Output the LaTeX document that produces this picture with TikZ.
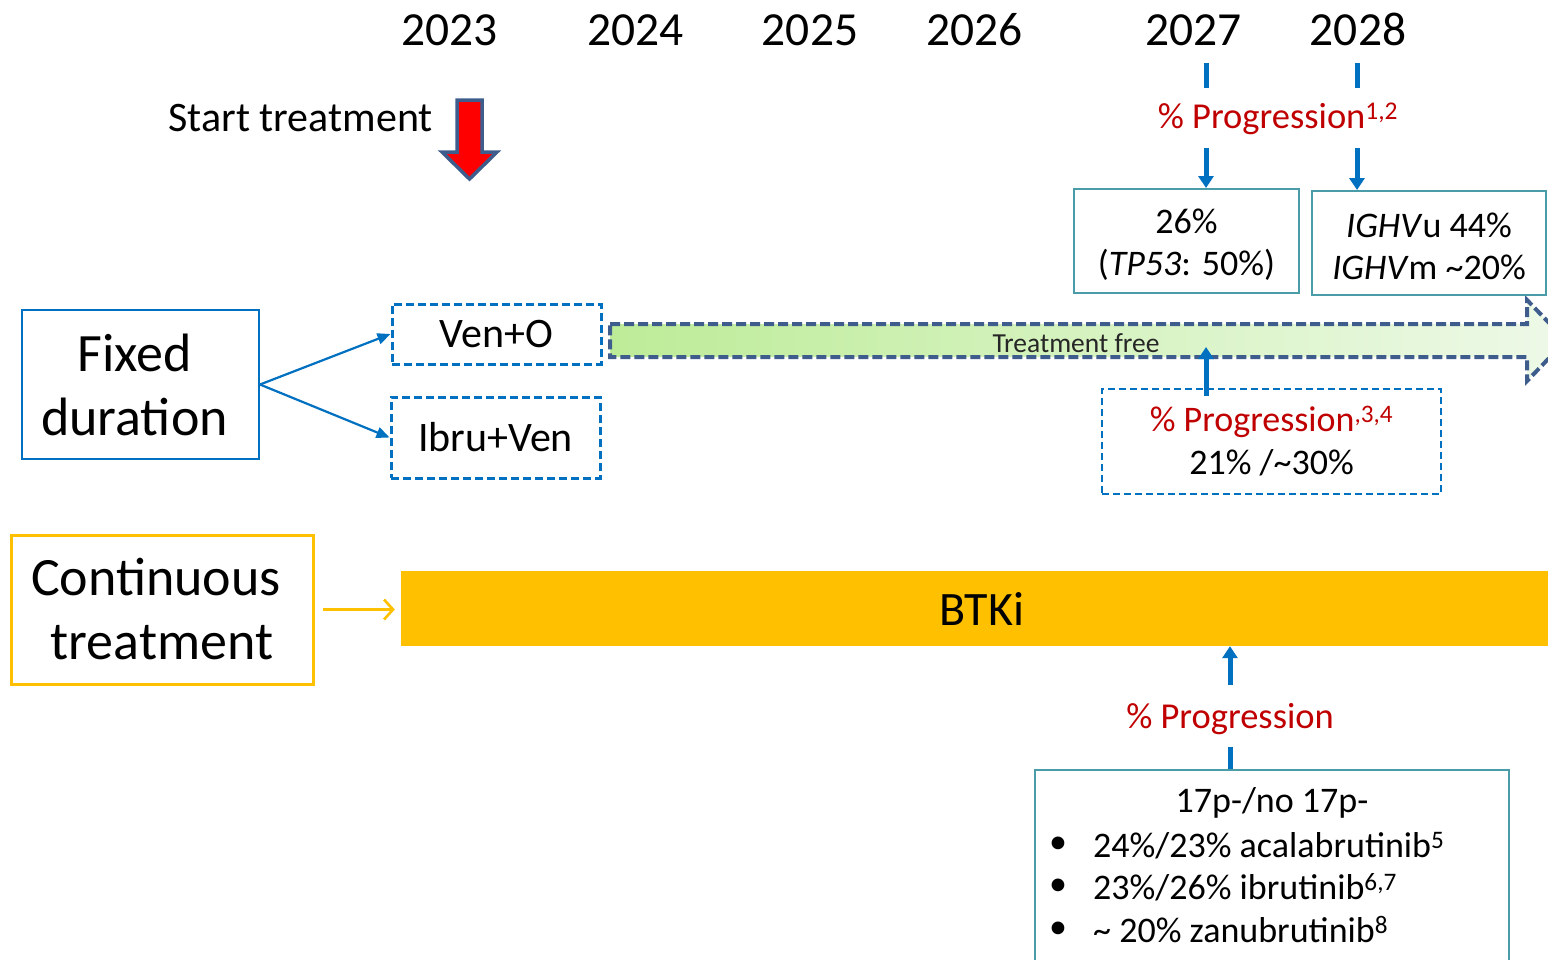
\documentclass[tikz,border=0pt]{standalone}
\usepackage{fontspec}
\setmainfont{Carlito}
\usetikzlibrary{arrows.meta, positioning, calc}
\definecolor{ocean}{HTML}{0070C0}
\definecolor{crimson}{HTML}{C00000}
\definecolor{amber}{HTML}{FFC000}
\definecolor{seafoam}{HTML}{4A9DA8}
\definecolor{steel}{HTML}{3E5D8C}
\definecolor{leaf}{HTML}{BDEC98}
\definecolor{mist}{HTML}{EEF9E8}
\definecolor{ink}{HTML}{262626}
\tikzset{
  % Timeline labels
  year/.style={font=\fontsize{47.5}{52}\selectfont, anchor=base, inner sep=0pt},
  % Regimen boxes on the left
  regimen/.style={
    draw=#1, align=center, inner sep=0pt,
    font=\fontsize{54}{64}\selectfont,
  },
  regimen/.default=ocean,
  drug/.style={
    draw=ocean, line width=3pt, dash pattern=on 8pt off 4pt,
    font=\fontsize{42}{48}\selectfont, inner sep=0pt,
  },
  % Outcome boxes
  result/.style={
    draw=seafoam, line width=2pt, align=center, inner sep=0pt,
    font=\fontsize{36}{42}\selectfont,
  },
  progbox/.style={
    draw=ocean, line width=2.2pt, dash pattern=on 7pt off 4pt,
    align=center, inner sep=0pt, font=\fontsize{36}{43}\selectfont,
  },
  prog/.style={font=\fontsize{36.5}{42}\selectfont, text=crimson, inner sep=0pt},
  listtext/.style={font=\fontsize{36}{42}\selectfont, inner sep=0pt},
  % Arrows
  branch/.style={-{Triangle[length=13pt, width=11pt]}, line width=2.2pt, ocean},
  feed/.style={-{Straight Barb[length=9pt, width=20pt]}, line width=2.6pt, amber},
  tick/.style={line width=5pt, ocean},
  down/.style={-{Triangle[length=12pt, width=15pt]}, line width=5pt, ocean},
  up/.style={-{Triangle[length=12pt, width=15pt]}, line width=5pt, ocean},
  startarrow/.style={fill=red, draw=steel, line width=3.5pt, line join=miter},
  tfarrow/.style={
    draw=steel, line width=4pt, dash pattern=on 10pt off 4pt,
    left color=leaf, right color=mist,
  },
}

\begin{document}
\begin{tikzpicture}[x=1pt, y=-1pt]

\path[use as bounding box, fill=white] (0,0) rectangle (1548,959);

% ====================================================================
% Years along the top
% ====================================================================
\foreach \yr/\x in {2023/449.5, 2024/635.5, 2025/810, 2026/974.5,
                    2027/1193.5, 2028/1358} {
  \node[year] (yr\yr) at (\x,45) {\yr};
}

\node[font=\fontsize{42}{48}\selectfont, anchor=base east, inner sep=0pt]
  (start) at (433,131) {Start treatment};
\draw[startarrow] (457,100) -- (482,100) -- (482,152) -- (497,152)
  -- (469.5,179) -- (442,152) -- (457,152) -- cycle;

% ====================================================================
% Fixed duration
% ====================================================================
\node[regimen, line width=2pt, minimum width=237pt, minimum height=149pt]
  (fixed) at (140.5,384.5) {Fixed\hspace*{12pt}\\duration\hspace*{12pt}};

\node[drug, minimum width=209pt, minimum height=60pt] (veno)
  at (496.5,334) {Ven+O};
\node[drug, minimum width=209pt, minimum height=81pt] (ibruven)
  at (495.5,437.5) {Ibru+Ven};

\draw[branch] (fixed.east) -- (veno.west);
\draw[branch] (fixed.east) -- (ibruven.west);

% Treatment free period
\path[tfarrow] (610,324) -- (1527,324) -- (1527,300) -- (1566,340.5)
  -- (1527,381) -- (1527,357) -- (610,357) -- cycle;
\node[font=\fontsize{27.5}{30}\selectfont, text=ink, inner sep=0pt]
  (tfree) at (1076,343) {Treatment free};

% ====================================================================
% Progression after fixed duration
% ====================================================================
\coordinate (m27) at (1206,63);
\coordinate (m28) at (1357,63);

\node[prog] (prog12) at (1278,119) {\% Progression\textsuperscript{1,2}};

\node[result, minimum width=225pt, minimum height=104pt] (box26)
  at (1186.5,241) {\rule{0pt}{31pt}26\%\\(\textit{TP53}: 50\%)};
\node[result, minimum width=234pt, minimum height=104pt] (boxighv)
  at (1429,243) {\rule{0pt}{31pt}\textit{IGHV}u 44\%\\\textit{IGHV}m \textasciitilde20\%};

\foreach \m/\dest in {m27/box26, m28/boxighv} {
  \draw[tick, shorten >=15pt] (\m) -- (\m |- prog12.north);
  \draw[down, shorten <=13pt] (\m |- prog12.south) -- (\m |- \dest.north);
}

\node[progbox, minimum width=339pt, minimum height=105pt] (prog34)
  at (1271.5,441.5)
  {\textcolor{crimson}{\% Progression\textsuperscript{,3,4}}\\21\% /\textasciitilde30\%};
\draw[up, shorten <=-8pt, shorten >=4pt] (prog34.north -| m27) -- (m27 |- tfree.center);

% ====================================================================
% Continuous treatment
% ====================================================================
\node[regimen=amber, line width=3pt, minimum width=302pt, minimum height=149pt]
  (cont) at (162,609.5) {Continuous\hspace*{12pt}\\treatment};

\node[fill=amber, minimum width=1162pt, minimum height=75pt, inner sep=0pt,
      font=\fontsize{48}{52}\selectfont] (btki) at (982,608.5) {BTKi};

\draw[feed, shorten <=8pt, shorten >=6pt] (cont.east) -- (cont.east -| btki.west);

% Progression on BTKi
\node[prog] (progB) at (1230,719) {\% Progression};
\node[result, minimum width=474pt, minimum height=210pt] (box17)
  at (1272,875) {};

\draw[up, shorten <=18pt] (progB.north) -- (progB |- btki.south);
\draw[tick, shorten <=12pt] (progB.south) -- (progB |- box17.north);

\node[listtext] (listhead) at (1272,803) {17p-/no 17p-};
\foreach \entry [count=\i] in {
    {24\%/23\% acalabrutinib\textsuperscript{5}},
    {23\%/26\% ibrutinib\textsuperscript{6,7}},
    {\textasciitilde{} 20\% zanubrutinib\textsuperscript{8}}} {
  \node[listtext] (dot\i) at (1058,{803+42.3*\i}) {\textbullet};
  \node[listtext, anchor=west] (entry\i) at (1093,{803+42.3*\i}) {\entry};
}

\end{tikzpicture}
\end{document}
